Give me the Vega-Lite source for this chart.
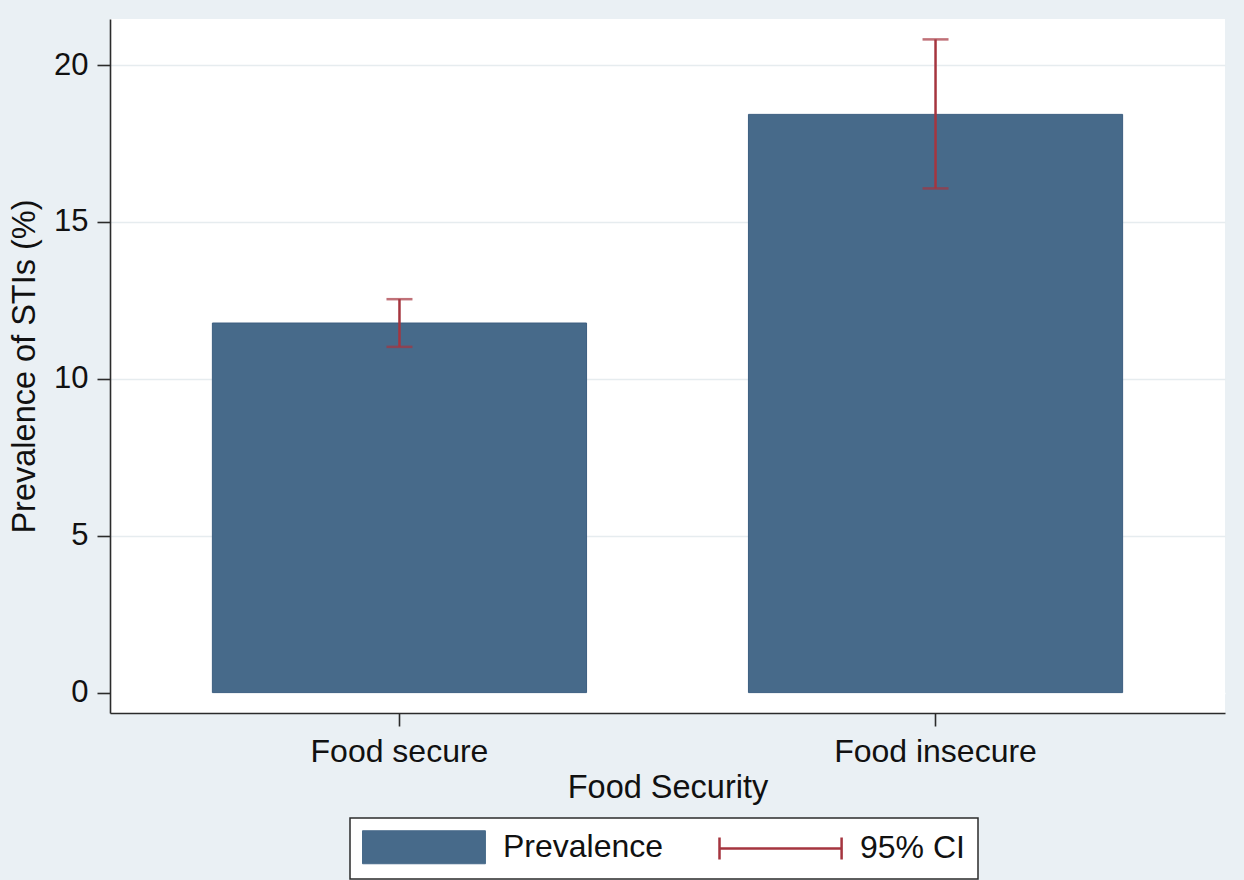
{
  "$schema": "https://vega.github.io/schema/vega-lite/v6.json",
  "autosize": {"type": "none"},
  "width": 1115,
  "height": 694,
  "padding": {"left": 110, "top": 19, "right": 19, "bottom": 167},
  "background": "#EAF0F4",
  "config": {
    "view": {"fill": "white", "stroke": null},
    "font": "Liberation Sans",
    "axis": {
      "labelFont": "Liberation Sans",
      "titleFont": "Liberation Sans",
      "labelFontSize": 31,
      "titleFontSize": 32.5,
      "titleFontWeight": "normal",
      "labelColor": "#111",
      "titleColor": "#111",
      "labelLimit": 400,
      "domainColor": "#2b2b2b",
      "domainWidth": 1.6,
      "tickColor": "#2b2b2b",
      "tickWidth": 1.6,
      "tickSize": 13
    },
    "legend": {
      "labelFont": "Liberation Sans",
      "labelFontSize": 32,
      "labelColor": "#111",
      "labelLimit": 400
    }
  },
  "data": {
    "values": [
      {"group": "Food secure", "prev": 11.78, "lo": 11.02, "hi": 12.54},
      {"group": "Food insecure", "prev": 18.43, "lo": 16.07, "hi": 20.82}
    ]
  },
  "encoding": {
    "x": {
      "field": "group",
      "type": "nominal",
      "sort": ["Food secure", "Food insecure"],
      "scale": {"paddingInner": 0.302, "paddingOuter": 0.191},
      "axis": {
        "title": "Food Security",
        "labelAngle": 0,
        "labelFontSize": 32,
        "labelPadding": 10,
        "titlePadding": 4,
        "grid": false
      }
    }
  },
  "layer": [
    {
      "mark": {"type": "bar", "stroke": "#3C5E80", "strokeWidth": 1},
      "encoding": {
        "y": {
          "field": "prev",
          "type": "quantitative",
          "scale": {"domain": [-0.65, 21.47], "nice": false, "zero": false},
          "axis": {
            "title": "Prevalence of STIs (%)",
            "values": [0, 5, 10, 15, 20],
            "labelPadding": 9,
            "titlePadding": 12,
            "grid": true,
            "gridColor": {"condition": {"test": "datum.value === 0", "value": "white"}, "value": "#E6ECEF"},
            "gridWidth": 1.5
          }
        },
        "y2": {"datum": 0},
        "color": {
          "datum": "Prevalence",
          "scale": {"domain": ["Prevalence", "95% CI"], "range": ["#476A8A", "#A5353F"]},
          "legend": {
            "title": null,
            "orient": "none",
            "legendX": 240,
            "legendY": 799,
            "direction": "horizontal",
            "strokeColor": "#2b2b2b",
            "fillColor": "white",
            "padding": 13,
            "symbolSize": 1089,
            "labelOffset": 108,
            "columnPadding": 50,
            "labelBaseline": "middle",
            "encode": {
              "legend": {"update": {"strokeWidth": {"value": 1.5}}},
              "symbols": {
                "update": {
                  "shape": {"signal": "datum.value === 'Prevalence' ? 'M-1,-1H6.45V1H-1Z' : 'M-1,0H6.4M-1,-0.67V0.67M6.4,-0.67V0.67'"},
                  "fill": {"signal": "datum.value === 'Prevalence' ? '#476A8A' : 'transparent'"},
                  "stroke": {"signal": "datum.value === 'Prevalence' ? '#3C5E80' : '#A5353F'"},
                  "strokeWidth": {"signal": "datum.value === 'Prevalence' ? 1 : 2.5"},
                  "opacity": {"value": 1}
                }
              }
            }
          }
        }
      }
    },
    {
      "mark": {"type": "rule", "strokeWidth": 2.5},
      "encoding": {
        "y": {"field": "lo", "type": "quantitative"},
        "y2": {"field": "hi"},
        "color": {
          "datum": "95% CI",
          "legend": {
            "title": null,
            "orient": "none",
            "legendX": 240,
            "legendY": 799,
            "direction": "horizontal",
            "strokeColor": "#2b2b2b",
            "fillColor": "white",
            "padding": 13,
            "symbolSize": 1089,
            "labelOffset": 108,
            "columnPadding": 50,
            "labelBaseline": "middle",
            "encode": {
              "legend": {"update": {"strokeWidth": {"value": 1.5}}},
              "symbols": {
                "update": {
                  "shape": {"signal": "datum.value === 'Prevalence' ? 'M-1,-1H6.45V1H-1Z' : 'M-1,0H6.4M-1,-0.67V0.67M6.4,-0.67V0.67'"},
                  "fill": {"signal": "datum.value === 'Prevalence' ? '#476A8A' : 'transparent'"},
                  "stroke": {"signal": "datum.value === 'Prevalence' ? '#3C5E80' : '#A5353F'"},
                  "strokeWidth": {"signal": "datum.value === 'Prevalence' ? 1 : 2.5"},
                  "opacity": {"value": 1}
                }
              }
            }
          }
        }
      }
    },
    {
      "mark": {"type": "tick", "orient": "horizontal", "size": 26, "thickness": 2.5},
      "encoding": {
        "y": {"field": "lo", "type": "quantitative"},
        "color": {"datum": "95% CI", "legend": null}
      }
    },
    {
      "mark": {"type": "tick", "orient": "horizontal", "size": 26, "thickness": 2.5},
      "encoding": {
        "y": {"field": "hi", "type": "quantitative"},
        "color": {"datum": "95% CI", "legend": null}
      }
    }
  ]
}
